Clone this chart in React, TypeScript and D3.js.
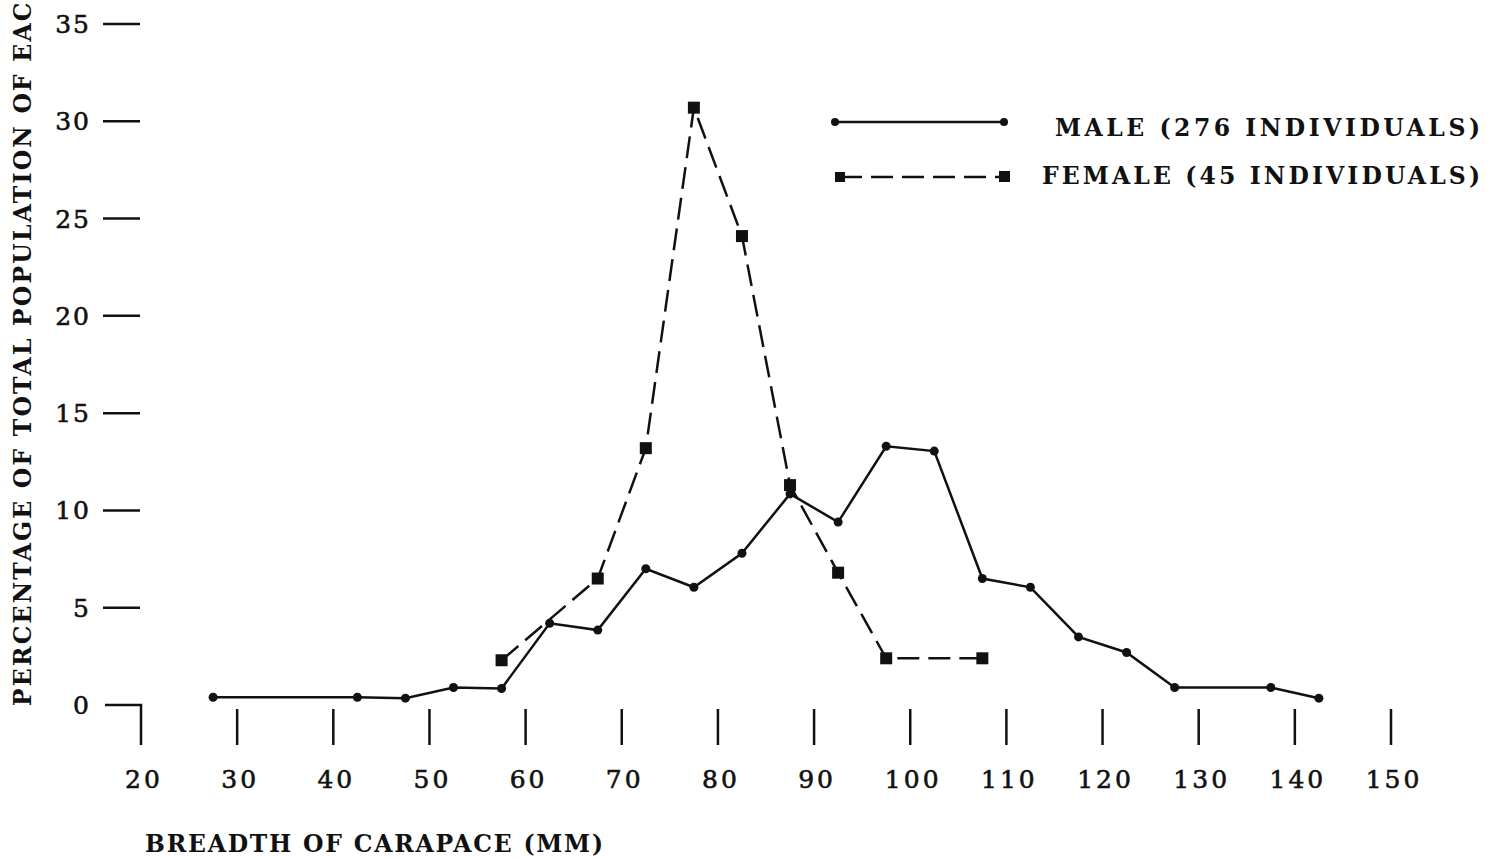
import * as d3 from "d3";
import React from "react";

// breadth class midpoints (mm) and percentages
const maleX = [27.5, 42.5, 47.5, 52.5, 57.5, 62.5, 67.5, 72.5, 77.5, 82.5, 87.5, 92.5, 97.5, 102.5, 107.5, 112.5, 117.5, 122.5, 127.5, 137.5, 142.5];
const maleY = [0.4, 0.4, 0.35, 0.9, 0.85, 4.2, 3.85, 7.0, 6.05, 7.8, 10.85, 9.4, 13.3, 13.05, 6.5, 6.05, 3.5, 2.7, 0.9, 0.9, 0.35];
const femaleX = [57.5, 67.5, 72.5, 77.5, 82.5, 87.5, 92.5, 97.5, 107.5];
const femaleY = [2.3, 6.5, 13.2, 30.7, 24.1, 11.3, 6.8, 2.4, 2.4];

const xTickValues = [20, 30, 40, 50, 60, 70, 80, 90, 100, 110, 120, 130, 140, 150];
const yTickValues = [0, 5, 10, 15, 20, 25, 30, 35];

const maleLabel = "MALE (276 INDIVIDUALS)";
const femaleLabel = "FEMALE (45 INDIVIDUALS)";
const xTitle = "BREADTH OF CARAPACE (MM)";
const yTitle = "PERCENTAGE OF TOTAL POPULATION OF EACH SEX";

export default function App() {
  const width = 1501;
  const height = 859;

  const x = d3.scaleLinear().domain([20, 150]).range([141, 1391]);
  const y = d3.scaleLinear().domain([0, 35]).range([705, 24]);

  const line = d3
    .line<[number, number]>()
    .x((d) => x(d[0]))
    .y((d) => y(d[1]));

  const male: [number, number][] = maleX.map((v, i) => [v, maleY[i]]);
  const female: [number, number][] = femaleX.map((v, i) => [v, femaleY[i]]);

  const font = {
    fontFamily: "'DejaVu Serif', 'Liberation Serif', serif",
    fontSize: 23.5,
    fontWeight: "bold" as const,
    fill: "#111",
  };
  const digits = {
    fontFamily: "'DejaVu Serif', 'Liberation Serif', serif",
    fontSize: 25,
    fill: "#111",
    stroke: "#111",
    strokeWidth: 0.6,
  };

  const ink = "#111";
  const tickTop = y(0) + 4;
  const tickBottom = y(0) + 40;

  return (
    <svg
      width={width}
      height={height}
      style={{ position: "absolute", left: 0, top: 0, background: "#fff" }}
    >
      {/* y title, runs off the top like the scan */}
      <text
        transform={`translate(31, 706) rotate(-90)`}
        {...font}
        textLength={798}
        lengthAdjust="spacing"
      >
        {yTitle}
      </text>

      {/* y ticks */}
      {yTickValues.map((t) => (
        <g key={"y" + t}>
          <text x={91} y={y(t) + 9} textAnchor="end" {...digits} letterSpacing={2}>
            {t}
          </text>
          {t === 0 ? (
            <path
              d={`M105,${y(0)} H${x(20)} V${tickBottom}`}
              fill="none"
              stroke={ink}
              strokeWidth={2.5}
            />
          ) : (
            <line x1={103} x2={140} y1={y(t)} y2={y(t)} stroke={ink} strokeWidth={2.5} />
          )}
        </g>
      ))}

      {/* x ticks */}
      {xTickValues.map((t) => (
        <g key={"x" + t}>
          {t !== 20 && (
            <line x1={x(t)} x2={x(t)} y1={tickTop} y2={tickBottom} stroke={ink} strokeWidth={2.5} />
          )}
          <text x={x(t) + 3} y={788} textAnchor="middle" {...digits} letterSpacing={3}>
            {t}
          </text>
        </g>
      ))}

      <text x={145} y={852} {...font} textLength={458} lengthAdjust="spacing">
        {xTitle}
      </text>

      {/* male series */}
      <path d={line(male) ?? ""} fill="none" stroke={ink} strokeWidth={2.5} />
      {male.map((d, i) => (
        <circle key={"m" + i} cx={x(d[0])} cy={y(d[1])} r={4.5} fill={ink} />
      ))}

      {/* female series */}
      <path
        d={line(female) ?? ""}
        fill="none"
        stroke={ink}
        strokeWidth={2.5}
        strokeDasharray="22 9"
      />
      {female.map((d, i) => (
        <rect key={"f" + i} x={x(d[0]) - 6} y={y(d[1]) - 6} width={12} height={12} fill={ink} />
      ))}

      {/* legend */}
      <line x1={835} x2={1004} y1={122} y2={122} stroke={ink} strokeWidth={2.5} />
      <circle cx={835} cy={122} r={4} fill={ink} />
      <circle cx={1004} cy={122} r={4} fill={ink} />
      <text x={1055} y={136} {...font} textLength={425} lengthAdjust="spacing">
        {maleLabel}
      </text>

      <line
        x1={840}
        x2={1004}
        y1={177}
        y2={177}
        stroke={ink}
        strokeWidth={2.5}
        strokeDasharray="22 9"
      />
      <rect x={835} y={172} width={10} height={10} fill={ink} />
      <rect x={999} y={171} width={11} height={11} fill={ink} />
      <text x={1042} y={184} {...font} textLength={438} lengthAdjust="spacing">
        {femaleLabel}
      </text>
    </svg>
  );
}
